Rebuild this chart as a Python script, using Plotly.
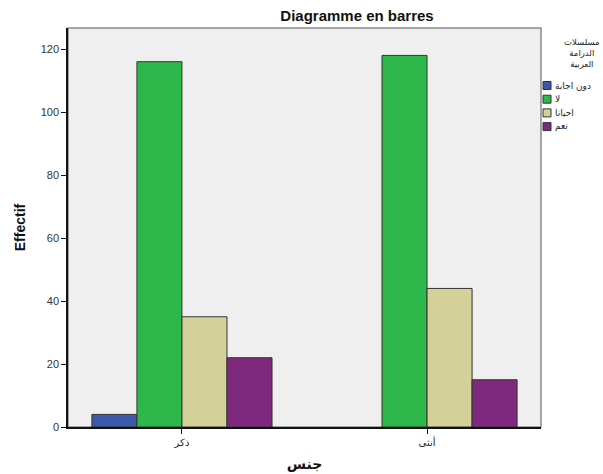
import plotly.graph_objects as go

categories = ["ذكر", "أنثى"]
series_names = ["دون اجابة", "لا", "احيانا", "نعم"]
values_no_answer = [4, None]
values_no = [116, 118]
values_sometimes = [35, 44]
values_yes = [22, 15]
series_values = [values_no_answer, values_no, values_sometimes, values_yes]
colors = ["#3c58a8", "#2eb84b", "#d4d09a", "#7e297d"]
legend_title = "مسلسلات<br>الدرامة<br>العربية"
y_ticks = [0, 20, 40, 60, 80, 100, 120]

W, H = 603, 474
L, R, T, B = 68, 541, 28, 427
pw, ph = R - L, B - T

def px(x):
    return (x - L) / pw

def py(y):
    return (B - y) / ph

fig = go.Figure()
for name, vals, col in zip(series_names, series_values, colors):
    fig.add_trace(go.Bar(
        x=[0, 1], y=vals, name=name,
        marker=dict(color=col, line=dict(color="#333333", width=1)),
        showlegend=False,
    ))

# frame around plot area
fig.add_shape(type="rect", xref="paper", yref="paper", x0=0, x1=1, y0=0, y1=1,
              line=dict(color="#8a8a8a", width=1.5), layer="below")

# manual legend
fig.add_annotation(xref="paper", yref="paper", x=px(582), y=py(35), text=legend_title,
                   showarrow=False, xanchor="center", yanchor="top", align="center",
                   font=dict(size=8.5, color="#222222", family="DejaVu Sans"))
for i, (name, col) in enumerate(zip(series_names, colors)):
    cy = 85.5 + i * 13.7
    fig.add_shape(type="rect", xref="paper", yref="paper",
                  x0=px(543), x1=px(551), y0=py(cy + 4), y1=py(cy - 4),
                  fillcolor=col, line=dict(color="#333333", width=1))
    fig.add_annotation(xref="paper", yref="paper", x=px(553), y=py(cy), text=name,
                       showarrow=False, xanchor="left", yanchor="middle",
                       font=dict(size=9, color="#222222", family="DejaVu Sans"))

fig.update_layout(
    width=W, height=H,
    margin=dict(l=L, r=W - R, t=T, b=H - B, autoexpand=False),
    paper_bgcolor="white", plot_bgcolor="#efefef",
    barmode="group", bargap=0.265, bargroupgap=0,
    font=dict(family="Liberation Sans, Arial, sans-serif", color="#333333"),
    title=dict(text="<b>Diagramme en barres</b>", x=357 / W, xref="container",
               xanchor="center", y=1 - 16 / H, yanchor="middle",
               font=dict(size=15, color="#111111")),
    xaxis=dict(range=[-0.465, 1.465], tickvals=[0, 1], ticktext=categories,
               showline=True, linecolor="#111111", linewidth=1.5,
               ticks="outside", ticklen=5, tickcolor="#111111",
               tickfont=dict(size=10, color="#222222", family="DejaVu Sans"),
               showgrid=False, zeroline=False,
               title=dict(text="<b>جنس</b>", font=dict(size=14, color="#111111", family="DejaVu Sans"),
                          standoff=12)),
    yaxis=dict(range=[0, 126.7], tickvals=y_ticks,
               showline=True, linecolor="#111111", linewidth=1.5,
               ticks="outside", ticklen=5, tickcolor="#111111",
               tickfont=dict(size=11, color="#333333"),
               showgrid=False, zeroline=False,
               title=dict(text="<b>Effectif</b>", font=dict(size=14, color="#111111"),
                          standoff=12)),
)

fig.write_html("out.html", config={"displayModeBar": False},
               post_script="document.body.style.margin='0px';document.body.style.overflow='hidden';")
